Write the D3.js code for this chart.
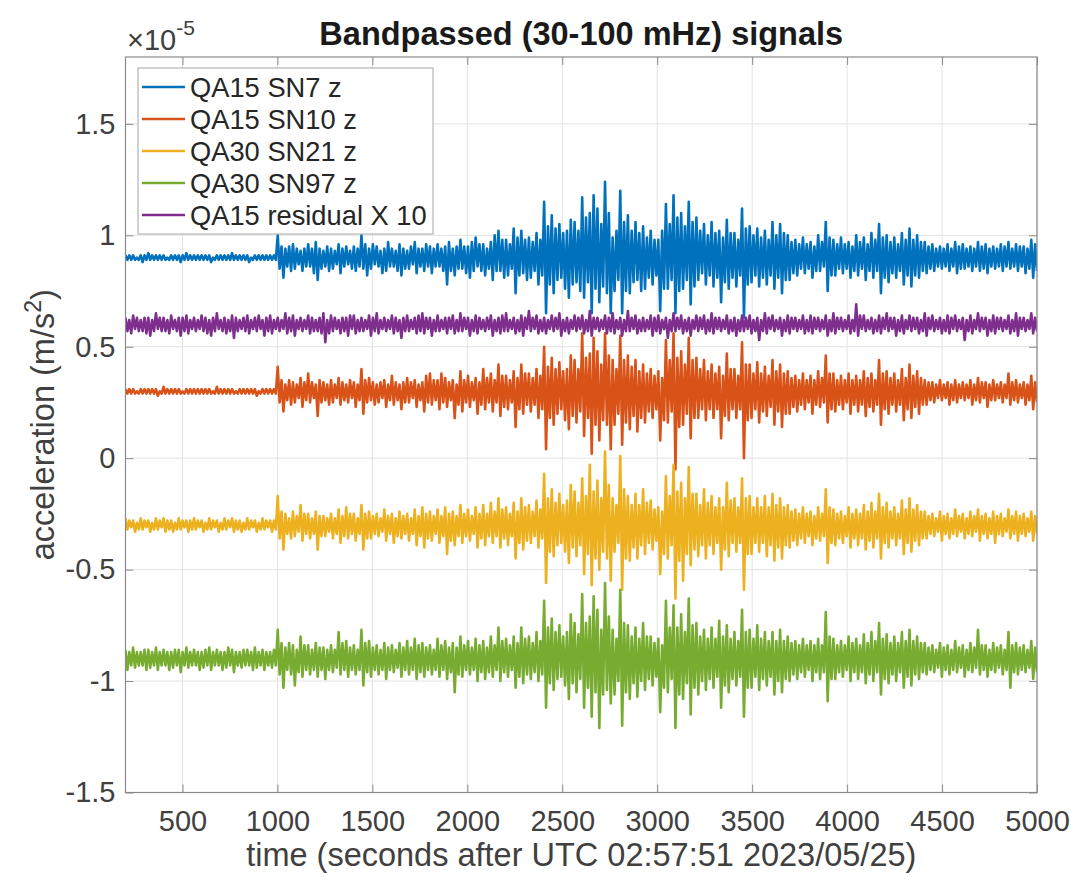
<!DOCTYPE html>
<html>
<head>
<meta charset="utf-8">
<script src="https://cdn.jsdelivr.net/npm/d3@7"></script>
<style>
  body { margin: 0; background: #fff; }
  svg text { font-family: "Liberation Sans", Arial, Helvetica, sans-serif; fill: #404040; }
</style>
</head>
<body>
<svg id="chart" width="1071" height="877"></svg>
<script>
var timeStart = 200, timeEnd = 5000;

// Tick values
var xTicks = [500, 1000, 1500, 2000, 2500, 3000, 3500, 4000, 4500, 5000];
var yTicks = [-1.5, -1, -0.5, 0, 0.5, 1, 1.5];

// Series names, colours and vertical offsets (x1e-5 m/s^2)
var names = ['QA15 SN7 z', 'QA15 SN10 z', 'QA30 SN21 z', 'QA30 SN97 z', 'QA15 residual X 10'];
var colors = ['#0072BD', '#D95319', '#EDB120', '#77AC30', '#7E2F8E'];
var offsets = [0.9, 0.3, -0.3, -0.9, 0.6];

// Per 20 s bin: max and min deviation from the offset, in units of 1e-7 m/s^2
var sn7Hi = [
  1,1, 1,0, 1,1, 2,1, 1,1, 1,0, 1,1, 1,1, 2,1, 1,1,
  1,1, 1,0, 1,1, 1,1, 2,1, 1,1, 1,0, 1,1, 1,1, 1,1,
  10,5, 4,5, 6,4, 3,4, 6,4, 7,4, 3,5, 4,3, 6,4, 5,3,
  5,4, 10,6, 4,6, 5,3, 4,7, 4,3, 6,4, 3,5, 7,4, 4,6,
  5,4, 6,4, 5,7, 4,5, 8,5, 5,7, 9,6, 6,4, 7,10, 12,8,
  8,6, 13,9, 12,8, 9,7, 11,8, 25,14, 19,13, 15,11, 12,17, 16,12,
  27,18, 20,28, 22,15, 34,20, 9,12, 30,16, 19,12, 16,11, 14,9, 12,8,
  8,12, 24,15, 28,18, 20,14, 25,16, 18,12, 15,10, 16,11, 12,9, 17,11,
  11,8, 22,13, 14,10, 13,9, 12,8, 16,10, 15,11, 10,7, 8,6, 9,6,
  7,5, 10,7, 16,9, 8,6, 9,6, 7,5, 10,7, 9,6, 11,8, 15,9,
  10,7, 9,6, 11,8, 13,8, 10,7, 7,5, 6,4, 5,4, 6,4, 7,5,
  6,4, 5,4, 7,5, 6,4, 5,4, 6,5, 7,4, 6,5, 5,4, 8,6];
var sn7Lo = [
  -1,-1, -1,-1, -2,-1, -1,-1, -1,-1, -1,-1, -1,-1, -2,-1, -1,-1, -1,-1,
  -1,-1, -2,-1, -1,-1, -1,-1, -1,-1, -1,-1, -2,-1, -1,-1, -1,-1, -1,-1,
  -5,-9, -4,-6, -5,-3, -6,-4, -4,-7, -10,-5, -4,-6, -5,-3, -7,-4, -3,-5,
  -6,-4, -5,-8, -5,-3, -4,-7, -6,-4, -4,-6, -8,-5, -5,-3, -7,-4, -6,-4,
  -7,-4, -4,-6, -12,-6, -8,-5, -5,-7, -9,-6, -4,-6, -8,-5, -10,-6, -6,-9,
  -8,-5, -16,-8, -7,-10, -9,-6, -12,-8, -25,-12, -16,-10, -9,-14, -18,-12, -11,-15,
  -18,-11, -25,-14, -20,-13, -16,-25, -15,-10, -25,-15, -16,-11, -10,-15, -14,-9, -12,-8,
  -24,-14, -14,-10, -25,-15, -14,-10, -21,-13, -10,-7, -12,-8, -13,-9, -20,-11, -14,-9,
  -13,-8, -27,-12, -11,-8, -13,-9, -12,-8, -14,-9, -16,-10, -10,-7, -8,-5, -7,-5,
  -9,-6, -6,-4, -15,-8, -8,-5, -7,-5, -9,-6, -8,-5, -10,-6, -9,-6, -16,-9,
  -11,-7, -9,-6, -12,-8, -13,-8, -9,-6, -7,-5, -6,-4, -5,-4, -6,-4, -7,-5,
  -5,-4, -6,-4, -6,-5, -7,-4, -5,-4, -6,-4, -5,-4, -6,-4, -7,-5, -9,-6];

var sn10Hi = [
  1,1, 1,0, 1,1, 1,1, 1,0, 2,1, 1,1, 1,0, 1,1, 1,1,
  1,1, 1,0, 2,1, 1,1, 1,0, 1,1, 1,1, 1,0, 1,1, 1,1,
  11,5, 3,5, 4,3, 6,4, 8,4, 3,5, 4,3, 5,3, 6,4, 3,5,
  4,3, 10,5, 6,4, 3,4, 5,3, 7,4, 3,4, 6,4, 5,3, 4,7,
  8,5, 5,8, 6,4, 5,3, 9,5, 7,4, 6,4, 10,6, 8,5, 12,7,
  7,5, 9,6, 12,8, 8,6, 10,7, 20,11, 15,10, 13,9, 10,16, 14,10,
  26,15, 17,24, 18,12, 26,16, 14,10, 25,14, 16,11, 14,9, 12,8, 10,7,
  9,6, 23,14, 26,15, 18,12, 24,14, 15,10, 14,9, 12,8, 11,7, 17,10,
  10,7, 22,12, 12,8, 13,8, 11,7, 14,9, 12,8, 9,6, 7,5, 8,5,
  7,5, 9,6, 16,8, 8,5, 7,5, 8,5, 7,5, 9,6, 8,5, 14,8,
  9,6, 8,5, 10,6, 12,7, 9,6, 5,4, 4,3, 5,3, 4,3, 5,3,
  4,3, 5,3, 6,4, 4,3, 5,3, 4,3, 8,4, 5,3, 4,3, 7,4];
var sn10Lo = [
  -1,-1, -1,-1, -1,-1, -1,-1, -2,-1, -1,-1, -1,-1, -1,-1, -1,-1, -1,-1,
  -1,-1, -1,-1, -1,-1, -1,-1, -1,-1, -1,-1, -1,-1, -2,-1, -1,-1, -1,-1,
  -5,-9, -4,-6, -5,-3, -7,-4, -5,-3, -11,-5, -4,-6, -5,-3, -6,-4, -5,-3,
  -7,-4, -10,-5, -4,-6, -5,-3, -7,-4, -6,-4, -8,-5, -5,-3, -7,-4, -9,-5,
  -6,-4, -8,-5, -7,-4, -12,-6, -9,-5, -7,-4, -10,-6, -8,-5, -9,-5, -11,-7,
  -8,-5, -16,-8, -10,-6, -9,-6, -12,-8, -26,-12, -15,-10, -8,-13, -17,-11, -14,-9,
  -20,-12, -28,-15, -22,-13, -15,-26, -15,-10, -24,-14, -17,-11, -18,-12, -14,-9, -12,-8,
  -22,-13, -14,-9, -35,-16, -15,-10, -21,-12, -12,-8, -13,-8, -12,-8, -21,-11, -13,-8,
  -12,-8, -30,-13, -12,-8, -14,-9, -11,-7, -15,-9, -16,-10, -10,-7, -9,-6, -8,-5,
  -10,-6, -7,-5, -14,-8, -9,-6, -8,-5, -10,-6, -9,-6, -11,-7, -9,-6, -15,-8,
  -10,-6, -9,-6, -13,-8, -12,-7, -10,-6, -6,-4, -5,-3, -4,-3, -6,-4, -5,-3,
  -4,-3, -6,-4, -5,-3, -7,-4, -4,-3, -5,-3, -6,-4, -5,-3, -6,-4, -8,-5];

var sn21Hi = [
  3,2, 2,1, 3,2, 2,1, 3,2, 3,2, 2,1, 3,2, 2,2, 3,2,
  2,1, 3,2, 2,1, 3,2, 3,2, 2,1, 3,2, 2,1, 3,2, 2,2,
  13,6, 5,3, 6,4, 9,5, 5,3, 6,4, 4,3, 5,3, 7,4, 8,5,
  5,3, 9,5, 6,4, 5,3, 7,4, 5,3, 6,4, 5,3, 7,4, 8,5,
  6,4, 7,4, 8,5, 6,4, 9,5, 7,4, 8,5, 9,5, 10,6, 12,7,
  8,5, 10,6, 12,8, 9,6, 11,7, 23,12, 16,10, 14,9, 11,18, 15,10,
  21,13, 27,15, 20,12, 33,18, 12,9, 31,16, 13,9, 14,9, 16,10, 11,7,
  8,6, 22,13, 27,15, 19,12, 26,14, 14,9, 16,10, 13,8, 12,8, 19,11,
  12,8, 21,12, 13,8, 12,8, 13,8, 14,9, 12,8, 9,6, 7,5, 8,5,
  6,4, 8,5, 16,8, 7,5, 6,4, 8,5, 7,5, 9,6, 10,6, 14,8,
  10,6, 8,5, 11,7, 12,7, 9,6, 6,4, 5,3, 6,4, 5,3, 7,4,
  5,3, 6,4, 7,4, 5,3, 6,4, 5,3, 7,4, 6,4, 5,3, 6,4];
var sn21Lo = [
  -2,-1, -3,-2, -2,-1, -3,-2, -2,-1, -3,-2, -3,-2, -2,-1, -3,-2, -2,-1,
  -3,-2, -2,-1, -3,-2, -2,-1, -3,-2, -3,-2, -2,-1, -3,-2, -2,-1, -3,-2,
  -6,-11, -4,-6, -5,-3, -7,-4, -6,-4, -11,-5, -5,-3, -6,-4, -8,-5, -6,-4,
  -7,-4, -11,-6, -6,-4, -5,-3, -7,-4, -8,-5, -6,-4, -7,-4, -9,-5, -10,-6,
  -7,-4, -8,-5, -13,-7, -9,-5, -8,-5, -7,-4, -10,-6, -9,-5, -8,-5, -10,-6,
  -9,-5, -15,-8, -11,-7, -8,-5, -10,-6, -26,-12, -14,-9, -8,-12, -17,-10, -14,-9,
  -22,-13, -27,-15, -20,-12, -15,-25, -12,-8, -29,-15, -16,-10, -15,-9, -13,-8, -11,-7,
  -22,-13, -15,-9, -33,-16, -25,-13, -18,-11, -14,-9, -15,-9, -13,-8, -20,-11, -14,-8,
  -12,-8, -29,-13, -13,-8, -12,-8, -14,-9, -16,-10, -15,-9, -10,-7, -9,-6, -8,-5,
  -9,-6, -7,-5, -17,-8, -9,-6, -8,-5, -10,-6, -9,-6, -11,-7, -10,-6, -15,-8,
  -10,-6, -9,-6, -13,-8, -12,-7, -9,-6, -6,-4, -5,-3, -7,-4, -6,-4, -5,-3,
  -6,-4, -5,-3, -7,-4, -6,-4, -8,-4, -5,-3, -6,-4, -7,-4, -5,-3, -7,-4];

var sn97Hi = [
  4,3, 5,3, 3,4, 4,3, 5,3, 4,3, 3,4, 4,3, 5,3, 4,3,
  3,4, 5,3, 4,3, 3,5, 4,3, 3,4, 4,3, 5,3, 4,3, 3,4,
  13,7, 5,7, 6,4, 10,6, 6,4, 7,5, 5,4, 6,4, 12,7, 8,5,
  6,4, 13,7, 8,5, 6,4, 7,5, 6,4, 7,5, 8,5, 9,6, 7,5,
  6,4, 9,6, 8,5, 7,5, 10,6, 8,5, 9,6, 8,5, 10,6, 14,8,
  9,6, 10,7, 14,9, 10,7, 12,8, 26,14, 18,12, 15,10, 12,20, 16,11,
  29,16, 19,28, 22,13, 34,19, 13,9, 31,16, 15,10, 14,9, 16,10, 10,7,
  9,6, 26,14, 24,14, 20,12, 27,15, 16,10, 13,9, 14,9, 17,10, 15,9,
  12,8, 22,12, 13,9, 15,9, 12,8, 12,8, 13,8, 10,7, 8,6, 9,6,
  8,6, 9,6, 21,10, 9,6, 8,6, 10,7, 9,6, 11,7, 12,8, 16,9,
  11,7, 10,7, 12,8, 13,8, 10,7, 7,5, 6,4, 7,5, 6,4, 8,5,
  6,4, 7,5, 13,6, 6,4, 7,5, 6,4, 12,6, 7,5, 6,4, 8,5];
var sn97Lo = [
  -5,-3, -4,-3, -3,-5, -4,-3, -5,-3, -3,-5, -4,-3, -6,-3, -4,-3, -3,-5,
  -4,-3, -5,-3, -3,-5, -4,-3, -6,-3, -4,-3, -3,-5, -4,-3, -5,-3, -4,-3,
  -7,-13, -5,-7, -12,-6, -8,-5, -7,-5, -8,-5, -9,-5, -6,-4, -7,-5, -8,-5,
  -7,-5, -12,-6, -8,-5, -7,-5, -9,-5, -6,-4, -8,-5, -7,-5, -9,-6, -8,-5,
  -7,-5, -8,-5, -9,-6, -15,-7, -8,-5, -7,-5, -10,-6, -9,-6, -8,-5, -10,-6,
  -8,-5, -13,-8, -11,-7, -9,-6, -10,-7, -22,-11, -14,-9, -8,-12, -18,-11, -15,-9,
  -22,-13, -26,-15, -31,-16, -14,-20, -16,-10, -30,-15, -18,-11, -17,-10, -14,-9, -12,-8,
  -24,-13, -15,-9, -31,-16, -18,-11, -25,-13, -16,-10, -14,-9, -13,-8, -22,-12, -15,-9,
  -12,-8, -26,-13, -13,-8, -14,-9, -12,-8, -16,-10, -15,-9, -10,-7, -9,-6, -8,-5,
  -10,-6, -9,-6, -19,-9, -9,-6, -8,-5, -10,-6, -9,-6, -11,-7, -10,-6, -16,-9,
  -11,-7, -10,-6, -13,-8, -12,-7, -9,-6, -7,-5, -6,-4, -8,-5, -7,-5, -6,-4,
  -8,-5, -6,-4, -7,-5, -8,-5, -6,-4, -7,-5, -13,-6, -7,-5, -6,-4, -9,-6];

var residHi = [
  3,2, 4,3, 2,3, 3,2, 5,3, 3,2, 4,2, 3,3, 4,2, 3,2,
  4,3, 2,3, 5,2, 3,2, 4,3, 2,3, 4,2, 3,4, 2,3, 4,2,
  3,2, 5,3, 4,2, 3,2, 4,3, 2,3, 5,2, 4,3, 2,3, 3,4,
  4,2, 3,2, 4,3, 5,2, 3,2, 4,3, 2,3, 4,2, 3,4, 5,3,
  3,2, 4,2, 3,3, 4,2, 5,3, 3,2, 4,3, 2,3, 4,2, 3,4,
  5,2, 3,2, 4,3, 6,3, 4,2, 3,2, 4,3, 5,2, 3,2, 4,3,
  4,2, 6,3, 3,2, 4,3, 5,2, 3,2, 6,3, 4,2, 3,2, 4,3,
  4,2, 3,2, 5,3, 4,2, 3,2, 4,3, 4,2, 5,3, 3,2, 4,2,
  3,2, 4,3, 4,2, 3,2, 5,3, 4,2, 3,2, 4,3, 3,2, 4,2,
  4,3, 3,2, 4,2, 5,3, 3,2, 4,2, 9,4, 4,2, 3,2, 4,3,
  5,3, 3,2, 4,2, 4,3, 3,2, 5,3, 4,2, 3,2, 4,3, 4,2,
  3,2, 4,2, 5,3, 3,2, 4,3, 3,2, 4,2, 5,3, 3,2, 5,3];
var residLo = [
  -3,-4, -2,-3, -3,-4, -5,-3, -2,-3, -3,-4, -2,-3, -5,-3, -4,-2, -3,-2,
  -3,-4, -5,-3, -2,-3, -4,-3, -6,-3, -2,-3, -4,-2, -3,-2, -5,-3, -4,-2,
  -3,-2, -4,-3, -5,-2, -3,-2, -4,-3, -3,-4, -8,-4, -3,-2, -4,-3, -5,-2,
  -4,-3, -3,-2, -5,-3, -4,-2, -3,-2, -4,-3, -6,-3, -3,-2, -4,-3, -4,-2,
  -5,-3, -3,-2, -4,-2, -4,-3, -3,-2, -5,-3, -4,-2, -3,-2, -5,-3, -4,-3,
  -3,-2, -4,-3, -5,-2, -3,-2, -4,-3, -4,-2, -3,-2, -5,-3, -4,-2, -3,-2,
  -4,-3, -5,-2, -3,-2, -4,-3, -4,-2, -5,-3, -3,-2, -4,-3, -3,-2, -5,-3,
  -4,-2, -6,-3, -3,-2, -4,-3, -5,-2, -3,-2, -4,-3, -4,-2, -3,-2, -4,-3,
  -5,-3, -3,-2, -4,-3, -7,-3, -4,-2, -3,-2, -5,-3, -4,-2, -3,-2, -4,-3,
  -4,-2, -3,-2, -5,-3, -4,-2, -3,-2, -4,-3, -5,-2, -3,-2, -4,-3, -4,-2,
  -3,-2, -5,-3, -4,-2, -3,-2, -4,-3, -5,-2, -3,-2, -4,-3, -4,-2, -3,-2,
  -7,-3, -4,-2, -3,-2, -5,-3, -4,-2, -3,-2, -4,-3, -5,-2, -3,-2, -4,-3];

var highs = [sn7Hi, sn10Hi, sn21Hi, sn97Hi, residHi];
var lows = [sn7Lo, sn10Lo, sn21Lo, sn97Lo, residLo];

// Layout
var plot = { left: 125.5, right: 1037, top: 57, bottom: 792.5 };
var svg = d3.select('#chart');

var x = d3.scaleLinear().domain([timeStart, timeEnd]).range([plot.left, plot.right]);
var y = d3.scaleLinear().domain([-1.5, 1.8]).range([plot.bottom, plot.top]);

// Grid
var grid = svg.append('g').attr('stroke', '#e3e3e3').attr('stroke-width', 1);
grid.selectAll('.gx').data(xTicks).enter().append('line')
  .attr('x1', function(d) { return x(d); }).attr('x2', function(d) { return x(d); })
  .attr('y1', plot.top).attr('y2', plot.bottom);
grid.selectAll('.gy').data(yTicks).enter().append('line')
  .attr('x1', plot.left).attr('x2', plot.right)
  .attr('y1', function(d) { return y(d); }).attr('y2', function(d) { return y(d); });

// Signals: each bin gives its max then its min, spread evenly over the time range
var line = d3.line()
  .x(function(d) { return x(d.t); })
  .y(function(d) { return y(d.v); });

svg.append('clipPath').attr('id', 'plot-clip').append('rect')
  .attr('x', plot.left).attr('y', plot.top)
  .attr('width', plot.right - plot.left).attr('height', plot.bottom - plot.top);

var seriesG = svg.append('g').attr('clip-path', 'url(#plot-clip)');
names.forEach(function(name, si) {
  var hi = highs[si], lo = lows[si];
  var sampleTime = d3.scaleLinear().domain([0, hi.length * 2 - 1]).range([timeStart, timeEnd]);
  var pts = [];
  hi.forEach(function(h, i) {
    pts.push({ t: sampleTime(2 * i), v: offsets[si] + h / 100 });
    pts.push({ t: sampleTime(2 * i + 1), v: offsets[si] + lo[i] / 100 });
  });
  seriesG.append('path')
    .datum(pts)
    .attr('d', line)
    .attr('fill', 'none')
    .attr('stroke', colors[si])
    .attr('stroke-width', 2.6)
    .attr('stroke-linejoin', 'round');
});

// Axes (ticks point inward like MATLAB)
var fmt = function(d) { return String(d); };
var axisColor = '#8a8a8a';

var xAxis = svg.append('g').attr('transform', 'translate(0,' + plot.bottom + ')')
  .call(d3.axisBottom(x).tickValues(xTicks).tickFormat(fmt).tickSizeInner(-8).tickSizeOuter(0).tickPadding(18));
var xTop = svg.append('g').attr('transform', 'translate(0,' + plot.top + ')')
  .call(d3.axisTop(x).tickValues(xTicks).tickFormat('').tickSizeInner(-8).tickSizeOuter(0));
var yAxis = svg.append('g').attr('transform', 'translate(' + plot.left + ',0)')
  .call(d3.axisLeft(y).tickValues(yTicks).tickFormat(fmt).tickSizeInner(-8).tickSizeOuter(0).tickPadding(10));
var yRight = svg.append('g').attr('transform', 'translate(' + plot.right + ',0)')
  .call(d3.axisRight(y).tickValues(yTicks).tickFormat('').tickSizeInner(-8).tickSizeOuter(0));

[xAxis, xTop, yAxis, yRight].forEach(function(a) {
  a.select('.domain').remove();
  a.selectAll('.tick line').attr('stroke', axisColor);
  a.selectAll('.tick text').attr('font-size', 29).attr('fill', '#404040')
    .style('font-family', '"Liberation Sans", Arial, sans-serif');
});

// Frame
svg.append('rect')
  .attr('x', plot.left).attr('y', plot.top)
  .attr('width', plot.right - plot.left).attr('height', plot.bottom - plot.top)
  .attr('fill', 'none').attr('stroke', axisColor).attr('stroke-width', 1.2);

// Exponent label
var expo = svg.append('text').attr('x', 127).attr('y', 50).attr('font-size', 29);
expo.append('tspan').text('\u00d710');
expo.append('tspan').attr('dy', -15).attr('font-size', 21).text('-5');

// Title
svg.append('text')
  .attr('x', (plot.left + plot.right) / 2).attr('y', 45)
  .attr('text-anchor', 'middle').attr('font-size', 32.5).attr('font-weight', 'bold')
  .style('fill', '#1a1a1a')
  .text('Bandpassed (30-100 mHz) signals');

// Axis labels
svg.append('text')
  .attr('x', (plot.left + plot.right) / 2).attr('y', 866)
  .attr('text-anchor', 'middle').attr('font-size', 32.5)
  .text('time (seconds after UTC 02:57:51 2023/05/25)');

var yLab = svg.append('text')
  .attr('transform', 'translate(54,' + ((plot.top + plot.bottom) / 2) + ') rotate(-90)')
  .attr('text-anchor', 'middle').attr('font-size', 32.5);
yLab.append('tspan').text('acceleration (m/s');
yLab.append('tspan').attr('dy', -13).attr('font-size', 23).text('2');
yLab.append('tspan').attr('dy', 13).text(')');

// Legend
var legend = svg.append('g');
legend.append('rect')
  .attr('x', 138).attr('y', 68).attr('width', 295).attr('height', 166)
  .attr('fill', '#fff').attr('stroke', '#a6a6a6').attr('stroke-width', 1);
var items = legend.selectAll('.item').data(names).enter().append('g')
  .attr('transform', function(d, i) { return 'translate(0,' + (87 + i * 32) + ')'; });
items.append('line')
  .attr('x1', 142).attr('x2', 185).attr('y1', 0).attr('y2', 0)
  .attr('stroke', function(d, i) { return colors[i]; }).attr('stroke-width', 2.6);
items.append('text')
  .attr('x', 190).attr('dy', '0.35em').attr('font-size', 27.3)
  .style('fill', '#262626')
  .text(function(d) { return d; });
</script>
</body>
</html>
